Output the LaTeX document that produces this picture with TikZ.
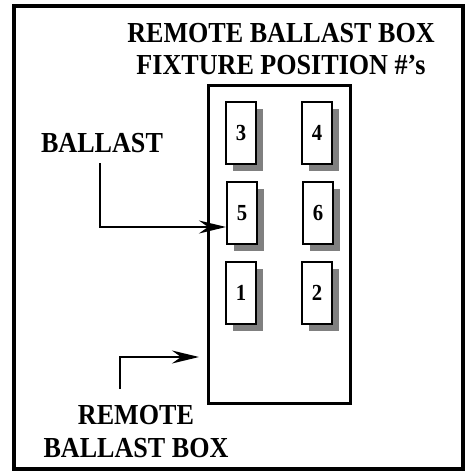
\documentclass[tikz,border=0pt]{standalone}
\usepackage{fontspec}
\setmainfont{Liberation Serif}
\newfontfamily\lblfont{Liberation Serif}[FakeStretch=0.9,Ligatures=TeX]
\usetikzlibrary{arrows.meta,shadows}
\tikzset{slot/.style={draw=black,line width=2pt,fill=white,minimum width=30pt,minimum height=62pt,inner sep=0pt,font=\lblfont\bfseries\fontsize{23}{24}\selectfont,drop shadow={shadow xshift=7pt,shadow yshift=-7pt,fill=black!50,opacity=1}},lbl/.style={align=center,inner sep=0pt,font=\lblfont\bfseries\fontsize{29}{32.5}\selectfont},arrow/.style={-{Stealth[length=27pt,width=13pt,inset=9pt]},line width=2pt}}
\begin{document}
\begin{tikzpicture}[x=1pt,y=-1pt]
\useasboundingbox (0,0) rectangle (469,471);
\draw[line width=3.5pt] (14,6) rectangle (463,469);
\node[lbl,anchor=north] (title) at (281,23) {REMOTE BALLAST BOX\\FIXTURE POSITION \#’s};
\node[draw,line width=3pt,minimum width=142pt,minimum height=318pt,inner sep=0pt] (rbox) at (279.5,244.5) {};
\foreach \n/\x/\y in {3/241/133,4/317/133,5/242/213,6/318/213,1/241/293,2/317/293}{\node[slot] (b\n) at (\x,\y) {\n};}
\node[lbl,anchor=base] (lballast) at (102,152.5) {BALLAST};
\node[lbl,anchor=north] (lrbox) at (136,405.5) {REMOTE\\BALLAST BOX};
\coordinate (c1) at (100,163);
\coordinate (c2) at (120,389);
\coordinate (c3) at (199,357);
\draw[arrow] (c1) |- ([yshift=-14pt]b5.west);
\draw[arrow] (c2) |- (c3);
\end{tikzpicture}
\end{document}
